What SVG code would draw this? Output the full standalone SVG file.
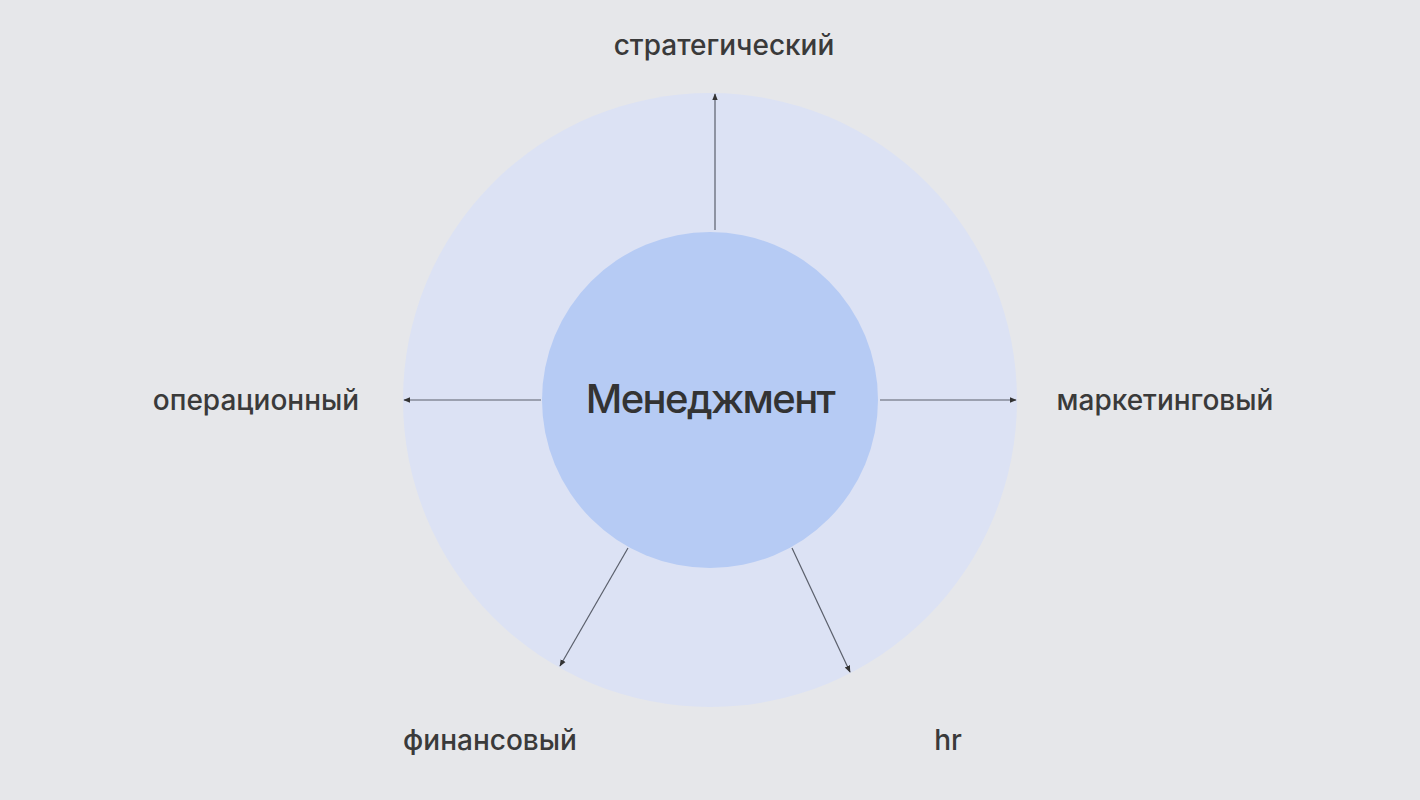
<svg xmlns="http://www.w3.org/2000/svg" width="1420" height="800" viewBox="0 0 1420 800">
<defs>
<style>
.lbl{font-family:Inter,"Noto Sans","Liberation Sans",sans-serif;font-size:28px;font-weight:500;fill:#3a3a3a;text-anchor:middle}
.title{font-family:Inter,"Noto Sans","Liberation Sans",sans-serif;font-size:40px;font-weight:500;letter-spacing:-1.6px;fill:#333;text-anchor:middle}
.conn{stroke:#5a5f6b;stroke-width:1.2;fill:none;marker-end:url(#ah)}
</style>
<marker id="ah" viewBox="0 0 10 10" refX="9" refY="5" markerWidth="7" markerHeight="7" orient="auto" markerUnits="userSpaceOnUse">
<path d="M0,1 L10,5 L0,9 Z" fill="#333"/>
</marker>
</defs>
<rect width="1420" height="800" fill="#e6e7ea"/>
<g id="outer"><circle cx="710" cy="400" r="307" fill="#dce2f4"/></g>
<g id="center"><circle cx="710" cy="400" r="168" fill="#b6cbf4"/><text class="title" x="710" y="413">Менеджмент</text></g>
<g id="connectors">
<line class="conn" x1="715" y1="230" x2="715" y2="94"/>
<line class="conn" x1="541" y1="400" x2="404" y2="400"/>
<line class="conn" x1="880" y1="400" x2="1016" y2="400"/>
<line class="conn" x1="628" y1="548" x2="560" y2="666"/>
<line class="conn" x1="792" y1="548" x2="850" y2="672"/>
</g>
<g id="n-strat"><text class="lbl" x="724" y="55">стратегический</text></g>
<g id="n-oper"><text class="lbl" x="256" y="410">операционный</text></g>
<g id="n-mark"><text class="lbl" x="1165" y="410">маркетинговый</text></g>
<g id="n-fin"><text class="lbl" x="490" y="750">финансовый</text></g>
<g id="n-hr"><text class="lbl" x="948" y="750">hr</text></g>
</svg>
